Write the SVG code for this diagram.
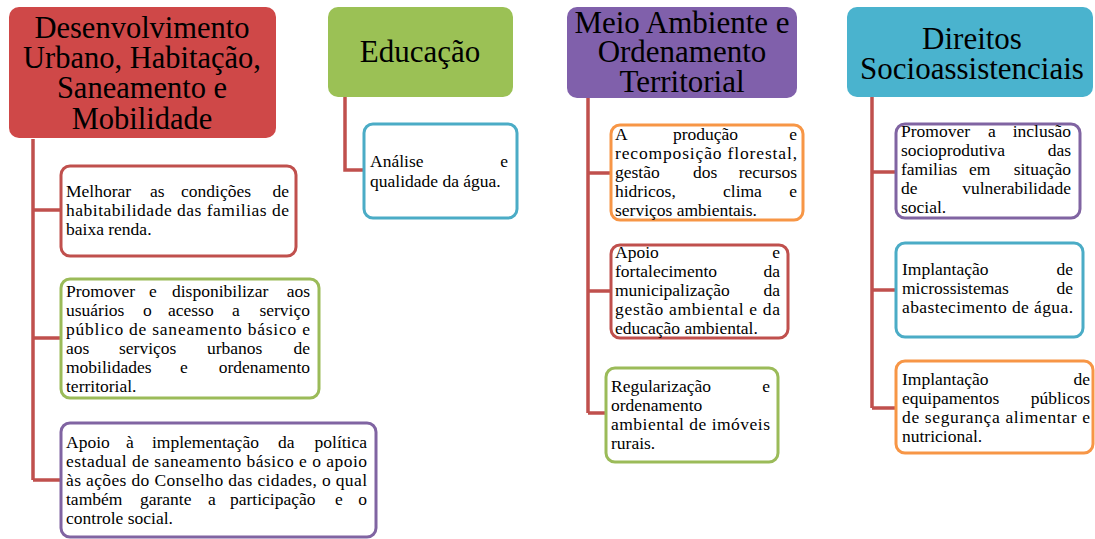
<svg xmlns="http://www.w3.org/2000/svg" width="1095" height="539" viewBox="0 0 1095 539" font-family="'Liberation Serif', 'Times New Roman', serif">
<style>
.h{font-family:'Liberation Serif','Times New Roman',serif;font-size:30.5px;fill:#000;text-anchor:middle}
.t{font-family:'Liberation Serif','Times New Roman',serif;font-size:17.5px;fill:#000}
.e{text-anchor:end}
.box{fill:#fff;stroke-width:3}
.red{stroke:#C0504D}.grn{stroke:#9BBB59}.pur{stroke:#8064A2}.blu{stroke:#4BACC6}.org{stroke:#F79646}
.con{fill:none;stroke:#C0504D;stroke-width:3.5}
</style>
<rect width="1095" height="539" fill="#fff"/>
<g id="connectors">
<path class="con" d="M33 139V480M33 210H61M33 338H61M33 480H61"/>
<path class="con" d="M345 97V170H364"/>
<path class="con" d="M588 98V413M588 173H611M588 291H611M588 413H606"/>
<path class="con" d="M872 97V408M872 172H896M872 290H896M872 408H896"/>
</g>
<g id="h1">
<rect x="9" y="7" width="267" height="131" rx="10" fill="#CF4848"/>
<text class="h" x="142" y="38">Desenvolvimento</text>
<text class="h" x="142" y="68">Urbano, Habitação,</text>
<text class="h" x="142" y="98">Saneamento e</text>
<text class="h" x="142" y="129">Mobilidade</text>
</g>
<g id="h2">
<rect x="328" y="7" width="185" height="90" rx="10" fill="#9BC155"/>
<text class="h" x="420" y="62" style="font-size:31px">Educação</text>
</g>
<g id="h3">
<rect x="567" y="7" width="230" height="91" rx="10" fill="#8060AB"/>
<text class="h" x="682" y="33" style="font-size:31px">Meio Ambiente e</text>
<text class="h" x="682" y="62" style="font-size:31px">Ordenamento</text>
<text class="h" x="682" y="92" style="font-size:31px">Territorial</text>
</g>
<g id="h4">
<rect x="847" y="7" width="246" height="90" rx="10" fill="#4AB3CE"/>
<text class="h" x="972" y="49" style="font-size:31px">Direitos</text>
<text class="h" x="972" y="79" style="font-size:31px">Socioassistenciais</text>
</g>
<g id="b1">
<rect class="box red" x="61" y="166" width="235" height="90" rx="9"/>
<text class="t" x="66" y="197">Melhorar</text><text class="t" x="150" y="197">as</text><text class="t" x="181" y="197">condições</text><text class="t e" x="289" y="197">de</text>
<text class="t" x="66" y="216" textLength="223" lengthAdjust="spacing">habitabilidade das familias de</text>
<text class="t" x="66" y="235">baixa  renda.</text>
</g>
<g id="b2">
<rect class="box grn" x="61" y="279" width="258" height="119" rx="9"/>
<text class="t" x="66" y="297">Promover</text><text class="t" x="149" y="297">e</text><text class="t" x="172" y="297">disponibilizar</text><text class="t e" x="310" y="297">aos</text>
<text class="t" x="66" y="316">usuários</text><text class="t" x="143" y="316">o</text><text class="t" x="168" y="316">acesso</text><text class="t" x="232" y="316">a</text><text class="t e" x="310" y="316">serviço</text>
<text class="t" x="66" y="335" textLength="244" lengthAdjust="spacing">público de saneamento básico e</text>
<text class="t" x="66" y="354">aos</text><text class="t" x="119" y="354">serviços</text><text class="t" x="207" y="354">urbanos</text><text class="t e" x="310" y="354">de</text>
<text class="t" x="66" y="373">mobilidades</text><text class="t" x="180" y="373">e</text><text class="t e" x="310" y="373">ordenamento</text>
<text class="t" x="66" y="392">territorial.</text>
</g>
<g id="b3">
<rect class="box pur" x="61" y="423" width="315" height="114" rx="9"/>
<text class="t" x="66" y="448">Apoio</text><text class="t" x="126" y="448">à</text><text class="t" x="152" y="448">implementação</text><text class="t" x="278" y="448">da</text><text class="t e" x="367" y="448">política</text>
<text class="t" x="66" y="467" textLength="301" lengthAdjust="spacing">estadual de saneamento básico e o apoio</text>
<text class="t" x="66" y="486" textLength="301" lengthAdjust="spacing">às ações do Conselho das cidades, o qual</text>
<text class="t" x="66" y="505">também</text><text class="t" x="140" y="505">garante</text><text class="t" x="208" y="505">a</text><text class="t" x="230" y="505">participação</text><text class="t" x="335" y="505">e</text><text class="t e" x="367" y="505">o</text>
<text class="t" x="66" y="524">controle  social.</text>
</g>
<g id="b4">
<rect class="box blu" x="364" y="124" width="153" height="94" rx="9"/>
<text class="t" x="370" y="167">Análise</text><text class="t e" x="508" y="167">e</text>
<text class="t" x="370" y="187">qualidade  da água.</text>
</g>
<g id="b5">
<rect class="box org" x="611" y="125" width="192" height="95" rx="9"/>
<text class="t" x="615" y="140">A</text><text class="t" x="673" y="140">produção</text><text class="t e" x="797" y="140">e</text>
<text class="t" x="615" y="159" textLength="182" lengthAdjust="spacing">recomposição florestal,</text>
<text class="t" x="615" y="178">gestão</text><text class="t" x="693" y="178">dos</text><text class="t e" x="797" y="178">recursos</text>
<text class="t" x="615" y="197">hidricos,</text><text class="t" x="723" y="197">clima</text><text class="t e" x="797" y="197">e</text>
<text class="t" x="615" y="216">serviços ambientais.</text>
</g>
<g id="b6">
<rect class="box red" x="611" y="245" width="177" height="93" rx="9"/>
<text class="t" x="615" y="258">Apoio</text><text class="t e" x="780" y="258">e</text>
<text class="t" x="615" y="277">fortalecimento</text><text class="t e" x="780" y="277">da</text>
<text class="t" x="615" y="296">municipalização</text><text class="t e" x="780" y="296">da</text>
<text class="t" x="615" y="315" textLength="165" lengthAdjust="spacing">gestão ambiental e da</text>
<text class="t" x="615" y="334">educação ambiental.</text>
</g>
<g id="b7">
<rect class="box grn" x="606" y="368" width="172" height="94" rx="9"/>
<text class="t" x="611" y="392">Regularização</text><text class="t e" x="770" y="392">e</text>
<text class="t" x="611" y="411">ordenamento</text>
<text class="t" x="611" y="430" textLength="159" lengthAdjust="spacing">ambiental de imóveis</text>
<text class="t" x="611" y="449">rurais.</text>
</g>
<g id="b8">
<rect class="box pur" x="896" y="124" width="184" height="94" rx="9"/>
<text class="t" x="901" y="137">Promover</text><text class="t" x="988" y="137">a</text><text class="t e" x="1071" y="137">inclusão</text>
<text class="t" x="901" y="156">socioprodutiva</text><text class="t e" x="1071" y="156">das</text>
<text class="t" x="901" y="175">familias</text><text class="t" x="969" y="175">em</text><text class="t e" x="1071" y="175">situação</text>
<text class="t" x="901" y="194">de</text><text class="t e" x="1071" y="194">vulnerabilidade</text>
<text class="t" x="901" y="213">social.</text>
</g>
<g id="b9">
<rect class="box blu" x="896" y="243" width="187" height="94" rx="9"/>
<text class="t" x="902" y="275">Implantação</text><text class="t e" x="1073" y="275">de</text>
<text class="t" x="902" y="294">microssistemas</text><text class="t e" x="1073" y="294">de</text>
<text class="t" x="902" y="313" textLength="171" lengthAdjust="spacing">abastecimento  de água.</text>
</g>
<g id="b10">
<rect class="box org" x="896" y="361" width="197" height="92" rx="9"/>
<text class="t" x="902" y="385">Implantação</text><text class="t e" x="1090" y="385">de</text>
<text class="t" x="902" y="404">equipamentos</text><text class="t e" x="1090" y="404">públicos</text>
<text class="t" x="902" y="423" textLength="188" lengthAdjust="spacing">de segurança alimentar e</text>
<text class="t" x="902" y="442">nutricional.</text>
</g>
</svg>
